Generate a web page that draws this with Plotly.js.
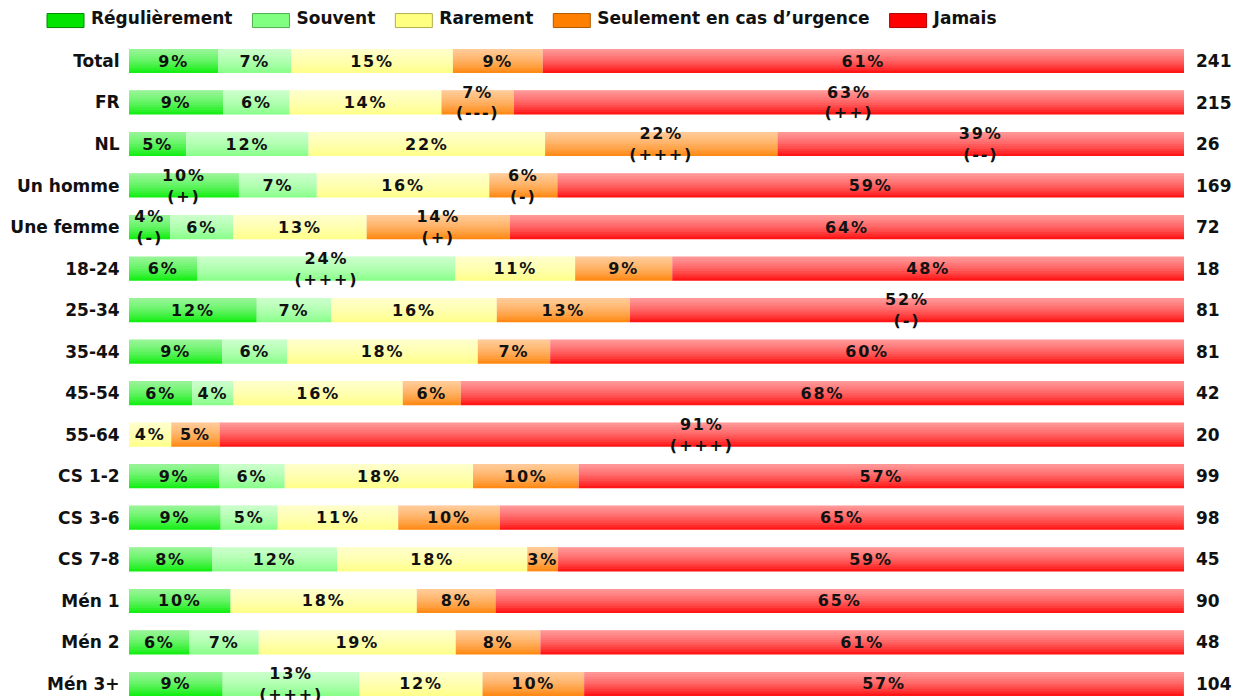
<!DOCTYPE html>
<html><head><meta charset="utf-8">
<script src="https://cdn.plot.ly/plotly-3.0.1.min.js"></script>
<style>
html,body{margin:0;padding:0;background:#fff}
#chart{width:1235px;height:700px}
#chart text.bartext{letter-spacing:1.8px}
</style>
</head><body><div id="chart"></div>
<script>
const categories = ['Total','FR','NL','Un homme','Une femme','18-24','25-34','35-44','45-54','55-64','CS 1-2','CS 3-6','CS 7-8','Mén 1','Mén 2','Mén 3+'];
const seriesNames = ['Régulièrement','Souvent','Rarement','Seulement en cas d\u2019urgence','Jamais'];

const regulierement = [8.48, 8.92, 5.42, 10.42, 3.93, 6.49, 12.11, 8.85, 6.00, 0, 8.54, 8.69, 7.87, 9.63, 5.74, 8.88];
const souvent       = [6.89, 6.30, 11.60, 7.38, 5.93, 24.44, 7.04, 6.15, 3.90, 0, 6.22, 5.40, 11.85, 0, 6.56, 12.97];
const rarement      = [15.33, 14.40, 22.42, 16.35, 12.67, 11.36, 15.71, 18.06, 16.05, 4.01, 17.85, 11.43, 18.03, 17.65, 18.67, 11.66];
const urgence       = [8.51, 6.86, 22.02, 6.45, 13.57, 9.20, 12.61, 6.86, 5.50, 4.57, 10.01, 9.63, 2.92, 7.46, 8.02, 9.63];
const jamais        = [60.79, 63.52, 38.54, 59.40, 63.90, 48.51, 52.53, 60.08, 68.55, 91.42, 57.38, 64.84, 59.33, 65.25, 61.01, 56.85];

const labelsReg = ['9%','9%','5%','10%<br>(+)','4%<br>(-)','6%','12%','9%','6%','','9%','9%','8%','10%','6%','9%'];
const labelsSou = ['7%','6%','12%','7%','6%','24%<br>(+++)','7%','6%','4%','','6%','5%','12%','','7%','13%<br>(+++)'];
const labelsRar = ['15%','14%','22%','16%','13%','11%','16%','18%','16%','4%','18%','11%','18%','18%','19%','12%'];
const labelsUrg = ['9%','7%<br>(---)','22%<br>(+++)','6%<br>(-)','14%<br>(+)','9%','13%','7%','6%','5%','10%','10%','3%','8%','8%','10%'];
const labelsJam = ['61%','63%<br>(++)','39%<br>(--)','59%','64%','48%','52%<br>(-)','60%','68%','91%<br>(+++)','57%','65%','59%','65%','61%','57%'];

const counts = [241, 215, 26, 169, 72, 18, 81, 81, 42, 20, 99, 98, 45, 90, 48, 104];

const barColors = ['#00ee00', '#80ff80', '#ffff80', '#ff8000', '#ff0000'];
const legendColors = ['#00e400', '#80ff80', '#ffff80', '#ff8000', '#ff0000'];
const legendBorders = ['#008a00', '#50b050', '#b0b050', '#b05800', '#b00000'];

const values = [regulierement, souvent, rarement, urgence, jamais];
const labels = [labelsReg, labelsSou, labelsRar, labelsUrg, labelsJam];

const FONT = 'DejaVu Sans, Verdana, sans-serif';
const BAR_W = 0.578;

// cumulative starts of each segment and row totals (derived from the series)
const bases = values.map((v, i) => categories.map((c, j) => {
  let s = 0; for (let k = 0; k < i; k++) s += values[k][j]; return s;
}));
const totals = categories.map((c, j) => values.reduce((s, v) => s + v[j], 0));

const traces = [];
values.forEach((v, i) => traces.push({
  type: 'bar', orientation: 'h', name: seriesNames[i],
  y: categories, x: v, base: bases[i],
  width: BAR_W,
  marker: {color: barColors[i], line: {width: 0}},
  hoverinfo: 'skip', legendrank: i + 1
}));

// soft highlight layers (lighter at the top of each bar)
const N_LAYERS = 10;
for (let k = 1; k <= N_LAYERS; k++) {
  traces.push({
    type: 'bar', orientation: 'h', showlegend: false,
    y: categories, x: totals, base: 0,
    width: BAR_W * k / N_LAYERS, offset: -BAR_W / 2,
    marker: {color: 'rgba(255,255,255,0.088)', line: {width: 0}},
    hoverinfo: 'skip'
  });
}

// labels
values.forEach((v, i) => traces.push({
  type: 'bar', orientation: 'h', showlegend: false,
  y: categories, x: v, base: bases[i],
  width: BAR_W,
  marker: {color: 'rgba(0,0,0,0)', line: {width: 0}},
  text: labels[i],
  textposition: 'inside', insidetextanchor: 'middle',
  textangle: 0, constraintext: 'none', cliponaxis: false,
  textfont: {family: FONT, size: 16, weight: 'bold', color: '#111'},
  hoverinfo: 'skip'
}));

const annotations = categories.map((c, i) => ({
  xref: 'paper', yref: 'y', x: 1, y: c,
  xanchor: 'left', yanchor: 'middle', xshift: 10,
  text: String(counts[i]), showarrow: false,
  font: {family: FONT, size: 17, weight: 'bold', color: '#111'}
}));

const layout = {
  width: 1235, height: 700,
  margin: {l: 129, r: 51, t: 40, b: 0, pad: 0},
  paper_bgcolor: '#fff', plot_bgcolor: '#fff',
  barmode: 'overlay',
  showlegend: true,
  legend: {
    orientation: 'h', traceorder: 'normal', itemwidth: 49,
    x: 32/1235, xref: 'container', xanchor: 'left',
    y: 1, yref: 'container', yanchor: 'top',
    font: {family: FONT, size: 17, weight: 'bold', color: '#111'},
    itemclick: false
  },
  xaxis: {range: [0, 100], visible: false, fixedrange: true},
  yaxis: {
    type: 'category', range: [15.386, -0.506],
    showgrid: false, zeroline: false, showline: false,
    ticks: 'outside', ticklen: 5, tickcolor: 'rgba(0,0,0,0)',
    tickfont: {family: FONT, size: 17, weight: 'bold', color: '#111'},
    fixedrange: true
  },
  annotations: annotations
};

Plotly.newPlot('chart', traces, layout, {displayModeBar: false, staticPlot: true}).then(gd => {
  // widen legend swatches into rectangles like the original
  const items = gd.querySelectorAll('.legend g.traces');
  items.forEach((item, idx) => {
    const txt = item.querySelector('text.legendtext');
    if (!txt) return;
    const tx = parseFloat(txt.getAttribute('x')) || 40;
    const paths = item.querySelectorAll('.legendpoints path');
    paths.forEach(p => {
      let el = p;
      while (el && el !== item) { el.removeAttribute('transform'); el = el.parentNode; }
      p.setAttribute('d', 'M' + (tx - 44) + ',-4H' + (tx - 7) + 'V10H' + (tx - 44) + 'Z');
      p.style.fill = legendColors[idx];
      p.style.stroke = legendBorders[idx];
      p.style.strokeWidth = '1px';
      p.style.fillOpacity = 1;
    });
  });
});
</script>
</body></html>
